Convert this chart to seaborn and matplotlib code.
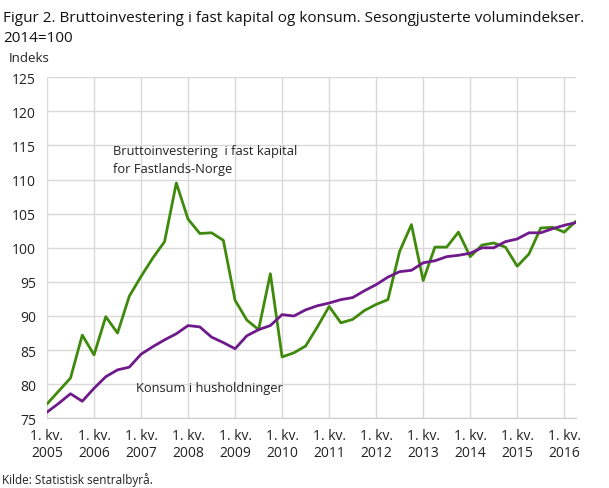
import matplotlib
matplotlib.use('Agg')
import matplotlib.pyplot as plt
import numpy as np
import pandas as pd
import seaborn as sns

# Quarterly data, 1. kv. 2005 - 2. kv. 2016 (2014=100)
years = list(range(2005, 2017))
tick_labels = ['1. kv.\n{}'.format(y) for y in years]

investering = [77.1, 79.0, 80.9, 87.2, 84.3, 89.9, 87.5, 92.9,
               95.8, 98.5, 100.9, 109.5, 104.2, 102.1, 102.2, 101.1,
               92.3, 89.4, 88.0, 96.2, 84.0, 84.6, 85.6, 88.4,
               91.4, 89.0, 89.5, 90.8, 91.7, 92.4, 99.5, 103.4,
               95.2, 100.1, 100.1, 102.3, 98.7, 100.4, 100.7, 100.1,
               97.3, 99.1, 102.9, 103.0, 102.3, 103.9]
konsum = [75.9, 77.2, 78.6, 77.5, 79.4, 81.1, 82.1, 82.5,
          84.4, 85.5, 86.5, 87.4, 88.6, 88.4, 86.9, 86.1,
          85.2, 87.1, 88.0, 88.6, 90.2, 90.0, 90.9, 91.5,
          91.9, 92.4, 92.7, 93.7, 94.6, 95.7, 96.5, 96.7,
          97.8, 98.1, 98.7, 98.9, 99.2, 100.0, 100.0, 100.9,
          101.3, 102.2, 102.2, 102.8, 103.3, 103.7]

quarter = np.arange(len(konsum))
df = pd.DataFrame({
    'kvartal': np.concatenate([quarter, quarter]),
    'indeks': investering + konsum,
    'serie': ['Bruttoinvestering'] * len(investering) + ['Konsum'] * len(konsum),
})

sns.set_style('white')
plt.rcParams['font.family'] = ['Open Sans', 'DejaVu Sans']

fig = plt.figure(figsize=(6.09, 4.89), dpi=100)
ax = fig.add_axes([47 / 609, 1 - 419.3 / 489, (576 - 47) / 609, (419.3 - 78.3) / 489])

sns.lineplot(data=df, x='kvartal', y='indeks', hue='serie',
             palette={'Bruttoinvestering': '#3f8a0c', 'Konsum': '#6f1a8a'},
             linewidth=2, legend=False, ax=ax)

ax.set_xlim(0, len(konsum) - 1)
ax.set_ylim(75, 125)
ax.set_yticks(np.arange(75, 126, 5))
ax.set_xticks(np.arange(0, len(konsum), 4))
ax.set_xticklabels(tick_labels)
ax.grid(True, color='#d9d9d9', linewidth=1)
ax.set_axisbelow(True)
for side in ['top', 'right', 'left']:
    ax.spines[side].set_visible(False)
ax.spines['bottom'].set_color('#cccccc')
ax.tick_params(axis='y', length=0, labelsize=10, colors='#222222', pad=8)
ax.tick_params(axis='x', length=4, color='#999999', labelsize=10,
               colors='#222222', pad=3)
ax.set_xlabel('')
ax.set_ylabel('')

ax.text(5.6, 114.2, 'Bruttoinvestering  i fast kapital', fontsize=9.3,
        va='center', ha='left', color='#222222')
ax.text(5.6, 111.6, 'for Fastlands-Norge', fontsize=9.3,
        va='center', ha='left', color='#222222')
ax.text(7.6, 79.5, 'Konsum i husholdninger', fontsize=9.3,
        va='center', ha='left', color='#222222')

fig.text(3 / 609, 1 - 18 / 489, 'Figur 2. Bruttoinvestering i fast kapital og konsum. Sesongjusterte volumindekser.',
         fontsize=11, va='center', ha='left', color='#111111')
fig.text(3 / 609, 1 - 38 / 489, '2014=100', fontsize=11, va='center', ha='left', color='#111111')
fig.text(9 / 609, 1 - 58 / 489, 'Indeks', fontsize=9.5, va='center', ha='left', color='#222222')
fig.text(2 / 609, 1 - 480 / 489, 'Kilde: Statistisk sentralbyrå.', fontsize=8.5,
         va='center', ha='left', color='#222222')

fig.savefig('out.png', dpi=100)
